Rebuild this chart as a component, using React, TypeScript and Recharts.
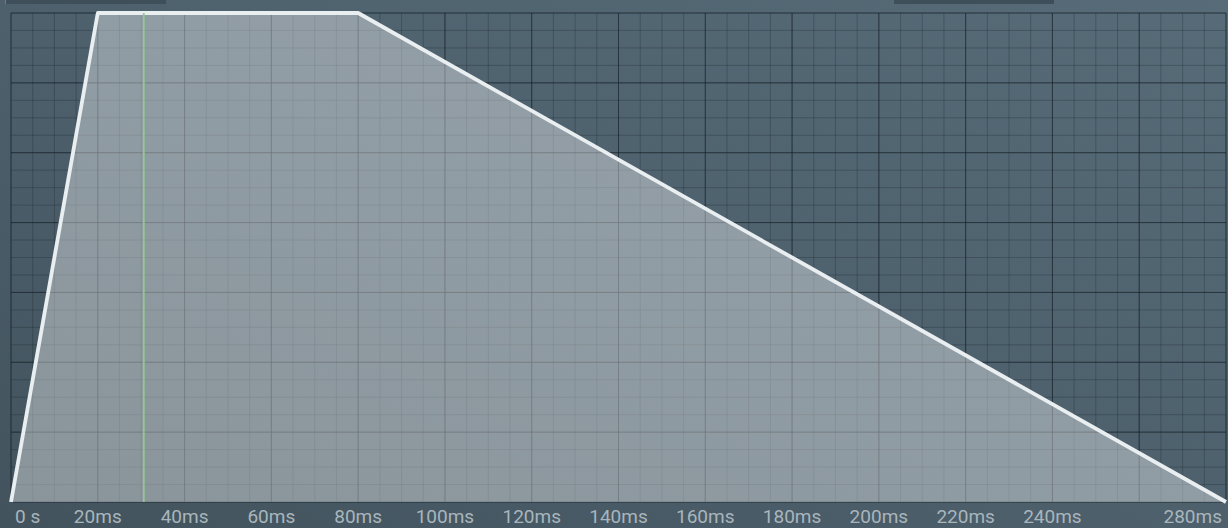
import React from 'react'
import { AreaChart, Area, XAxis, YAxis, CartesianGrid, ReferenceLine } from 'recharts'

// envelope breakpoints (ms) and level (0..1)
const timesMs = [0, 20, 80, 280]
const levels = [0, 1, 1, 0]

// axis labels (260ms is hidden in the original, too close to 280ms)
const labelTicks = [0, 20, 40, 60, 80, 100, 120, 140, 160, 180, 200, 220, 240, 280]
const minorTimeTicks = [
  0, 5, 10, 15, 20, 25, 30, 35, 40, 45, 50, 55, 60, 65, 70, 75, 80, 85, 90, 95, 100, 105, 110, 115, 120, 125, 130, 135,
  140, 145, 150, 155, 160, 165, 170, 175, 180, 185, 190, 195, 200, 205, 210, 215, 220, 225, 230, 235, 240, 245, 250,
  255, 260, 265, 270, 275, 280,
]
const majorTimeTicks = [0, 20, 40, 60, 80, 100, 120, 140, 160, 180, 200, 220, 240, 260, 280]

const GRID_ROWS = 28
const minorLevelTicks = Array.from({ length: GRID_ROWS }, (_, i) => i / GRID_ROWS)
const majorLevelTicks = Array.from({ length: GRID_ROWS / 4 }, (_, i) => (i * 4) / GRID_ROWS)

const playheadMs = 30.6

const data = timesMs.map((t, i) => ({ t, level: levels[i] }))

const W = 1228
const H = 528

const fmt = (v: number) => (v === 0 ? '0 s' : `${v}ms`)

function TimeTick(props: any) {
  const { x, y, payload } = props
  const v = payload.value
  const last = labelTicks[labelTicks.length - 1]
  let anchor: 'start' | 'middle' | 'end' = 'middle'
  let dx = 0
  if (v === 0) {
    anchor = 'start'
    dx = 4
  } else if (v === last) {
    anchor = 'end'
    dx = -4
  }
  return (
    <text
      x={x + dx}
      y={y + 6}
      textAnchor={anchor}
      dominantBaseline="central"
      fill="#a9b5bc"
      fontSize={19}
      fontFamily="Roboto, 'Noto Sans', sans-serif"
    >
      {fmt(v)}
    </text>
  )
}

export default function App() {
  return (
    <div
      style={{
        position: 'fixed',
        left: 0,
        top: 0,
        width: W,
        height: H,
        overflow: 'hidden',
        background: 'linear-gradient(to top right, #42535d 0%, #4c5f6b 45%, #576b78 100%)',
      }}
    >
      {/* toolbar tabs peeking in at the top */}
      <div style={{ position: 'absolute', left: 5, top: 0, width: 160, height: 4, background: '#3e4f59', borderLeft: '1px solid #4a86b8' }} />
      <div style={{ position: 'absolute', left: 894, top: 0, width: 160, height: 4, background: '#3e4f59' }} />

      <AreaChart width={W} height={H} data={data} margin={{ top: 13, right: 2, bottom: 0, left: 11 }}>
        <XAxis xAxisId="minor" dataKey="t" type="number" domain={[0, 280]} ticks={minorTimeTicks} interval={0} hide />
        <XAxis xAxisId="major" dataKey="t" type="number" domain={[0, 280]} ticks={majorTimeTicks} interval={0} hide />
        <YAxis yAxisId="minor" dataKey="level" type="number" domain={[0, 1]} ticks={minorLevelTicks} interval={0} hide />
        <YAxis yAxisId="major" dataKey="level" type="number" domain={[0, 1]} ticks={majorLevelTicks} interval={0} hide />

        <CartesianGrid xAxisId="minor" yAxisId="minor" stroke="rgba(25,36,44,0.28)" strokeWidth={1} />
        <CartesianGrid xAxisId="major" yAxisId="major" stroke="rgba(20,30,36,0.55)" strokeWidth={1} />

        <XAxis
          dataKey="t"
          type="number"
          domain={[0, 280]}
          ticks={labelTicks}
          interval={0}
          height={26}
          axisLine={false}
          tickLine={false}
          tick={<TimeTick />}
        />
        <YAxis yAxisId="lvl" dataKey="level" type="number" domain={[0, 1]} hide />

        <Area
          yAxisId="lvl"
          type="linear"
          dataKey="level"
          stroke="#e9eef1"
          strokeWidth={3.8}
          strokeLinejoin="round"
          fill="#ffffff"
          fillOpacity={0.38}
          isAnimationActive={false}
          dot={false}
          activeDot={false}
        />
        <ReferenceLine yAxisId="lvl" x={playheadMs} stroke="#94c890" strokeWidth={1.8} />
      </AreaChart>
    </div>
  )
}
